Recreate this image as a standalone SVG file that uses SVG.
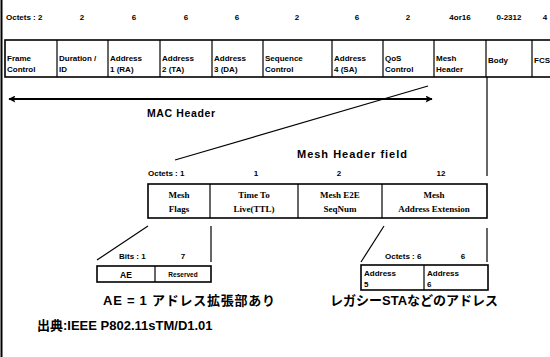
<svg xmlns="http://www.w3.org/2000/svg" width="550" height="357" viewBox="0 0 550 357">
<defs>
<style>
.s{font-family:"Liberation Sans",Arial,sans-serif;font-weight:bold;fill:#000}
.c{font-size:8px}
.o{font-size:8px;text-anchor:middle}
.sf{font-family:"Liberation Serif","Times New Roman",serif;font-weight:bold;font-size:9px;text-anchor:middle;fill:#000}
.j{font-family:"Liberation Sans","Noto Sans CJK JP",sans-serif;font-weight:bold;fill:#000}
.b{fill:#fff;stroke:#000;stroke-width:1.6}
.l{stroke:#000;stroke-width:1.2;fill:none}
</style>
<marker id="ah" viewBox="0 0 10 10" refX="9" refY="5" markerWidth="10" markerHeight="7" markerUnits="userSpaceOnUse" orient="auto-start-reverse">
<path d="M0,0 L10,5 L0,10 L2,5 z" fill="#000"/>
</marker>
</defs>
<rect width="550" height="357" fill="#fff"/>
<line x1="1.5" y1="0" x2="1.5" y2="357" stroke="#000" stroke-width="2"/>

<g id="octets-top" class="s">
<text class="c" x="6" y="20">Octets : 2</text>
<text class="o" x="82" y="20">2</text>
<text class="o" x="134" y="20">6</text>
<text class="o" x="186" y="20">6</text>
<text class="o" x="237" y="20">6</text>
<text class="o" x="297" y="20">2</text>
<text class="o" x="357" y="20">6</text>
<text class="o" x="408" y="20">2</text>
<text class="o" x="460" y="20">4or16</text>
<text class="o" x="509" y="20">0-2312</text>
<text class="o" x="545" y="20">4</text>
</g>

<g id="mac-frame">
<rect class="b" x="5" y="40" width="560" height="37"/>
<g class="l">
<line x1="57" y1="40" x2="57" y2="77"/>
<line x1="108" y1="40" x2="108" y2="77"/>
<line x1="160" y1="40" x2="160" y2="77"/>
<line x1="212" y1="40" x2="212" y2="77"/>
<line x1="263" y1="40" x2="263" y2="77"/>
<line x1="332" y1="40" x2="332" y2="77"/>
<line x1="383" y1="40" x2="383" y2="77"/>
<line x1="434" y1="40" x2="434" y2="77"/>
<line x1="486" y1="40" x2="486" y2="77"/>
<line x1="532" y1="40" x2="532" y2="77"/>
</g>
<g class="s c">
<text x="7" y="61">Frame</text><text x="7" y="72">Control</text>
<text x="59" y="61">Duration /</text><text x="59" y="72">ID</text>
<text x="110" y="61">Address</text><text x="110" y="72">1 (RA)</text>
<text x="162" y="61">Address</text><text x="162" y="72">2 (TA)</text>
<text x="214" y="61">Address</text><text x="214" y="72">3 (DA)</text>
<text x="265" y="61">Sequence</text><text x="265" y="72">Control</text>
<text x="334" y="61">Address</text><text x="334" y="72">4 (SA)</text>
<text x="385" y="61">QoS</text><text x="385" y="72">Control</text>
<text x="436" y="61">Mesh</text><text x="436" y="72">Header</text>
<text x="488" y="63">Body</text>
<text x="534" y="63">FCS</text>
</g>
</g>

<g id="mac-header-label">
<text class="s" x="147" y="117" font-size="10.5" textLength="68">MAC  Header</text>
</g>

<g id="mesh-header-label">
<text class="s" x="297" y="158" font-size="11" textLength="110">Mesh Header field</text>
</g>

<g id="octets-mesh" class="s">
<text class="c" x="148" y="176">Octets : 1</text>
<text class="o" x="256" y="176">1</text>
<text class="o" x="339" y="176">2</text>
<text class="o" x="441" y="176">12</text>
</g>

<g id="mesh-header-field">
<rect class="b" x="148" y="184" width="339" height="34"/>
<g class="l">
<line x1="210" y1="184" x2="210" y2="218"/>
<line x1="298" y1="184" x2="298" y2="218"/>
<line x1="382" y1="184" x2="382" y2="218"/>
</g>
<text class="sf" x="179" y="198">Mesh</text><text class="sf" x="179" y="212">Flags</text>
<text class="sf" x="254" y="198">Time To</text><text class="sf" x="254" y="212">Live(TTL)</text>
<text class="sf" x="340" y="198">Mesh E2E</text><text class="sf" x="340" y="212">SeqNum</text>
<text class="sf" x="434" y="198">Mesh</text><text class="sf" x="434" y="212">Address Extension</text>
</g>

<g id="octets-bits" class="s">
<text class="c" x="119" y="259">Bits : 1</text>
<text class="o" x="183" y="259">7</text>
</g>

<g id="mesh-flags">
<rect class="b" x="97" y="266" width="114" height="16"/>
<line class="l" x1="155" y1="266" x2="155" y2="282"/>
<text class="s" x="126" y="277.5" font-size="8.5" text-anchor="middle">AE</text>
<text class="s" x="183" y="277" font-size="6.5" text-anchor="middle">Reserved</text>
</g>

<g id="octets-addr" class="s">
<text class="c" x="385" y="259">Octets : 6</text>
<text class="o" x="463" y="259">6</text>
</g>

<g id="address-ext">
<rect class="b" x="361" y="265" width="127" height="25"/>
<line class="l" x1="424" y1="265" x2="424" y2="290"/>
<g class="s c">
<text x="364" y="275.5">Address</text><text x="364" y="286.5">5</text>
<text x="427" y="275.5">Address</text><text x="427" y="286.5">6</text>
</g>
</g>

<g id="connectors" class="l">
<line x1="9" y1="99" x2="432" y2="99" stroke-width="2" marker-start="url(#ah)" marker-end="url(#ah)"/>
<line x1="428" y1="86" x2="175" y2="160"/>
<line x1="487" y1="77" x2="487" y2="176"/>
<line x1="148" y1="226" x2="97" y2="260"/>
<line x1="211" y1="226" x2="211" y2="262"/>
<line x1="384" y1="226" x2="361" y2="262"/>
<line x1="487" y1="228" x2="487" y2="262"/>
</g>

<g id="notes">
<text class="j" x="103" y="305" font-size="13" textLength="172">AE = 1 アドレス拡張部あり</text>
<text class="j" x="330" y="305" font-size="13">レガシーSTAなどのアドレス</text>
<text class="j" x="37" y="330" font-size="13">出典:IEEE P802.11sTM/D1.01</text>
</g>
</svg>
